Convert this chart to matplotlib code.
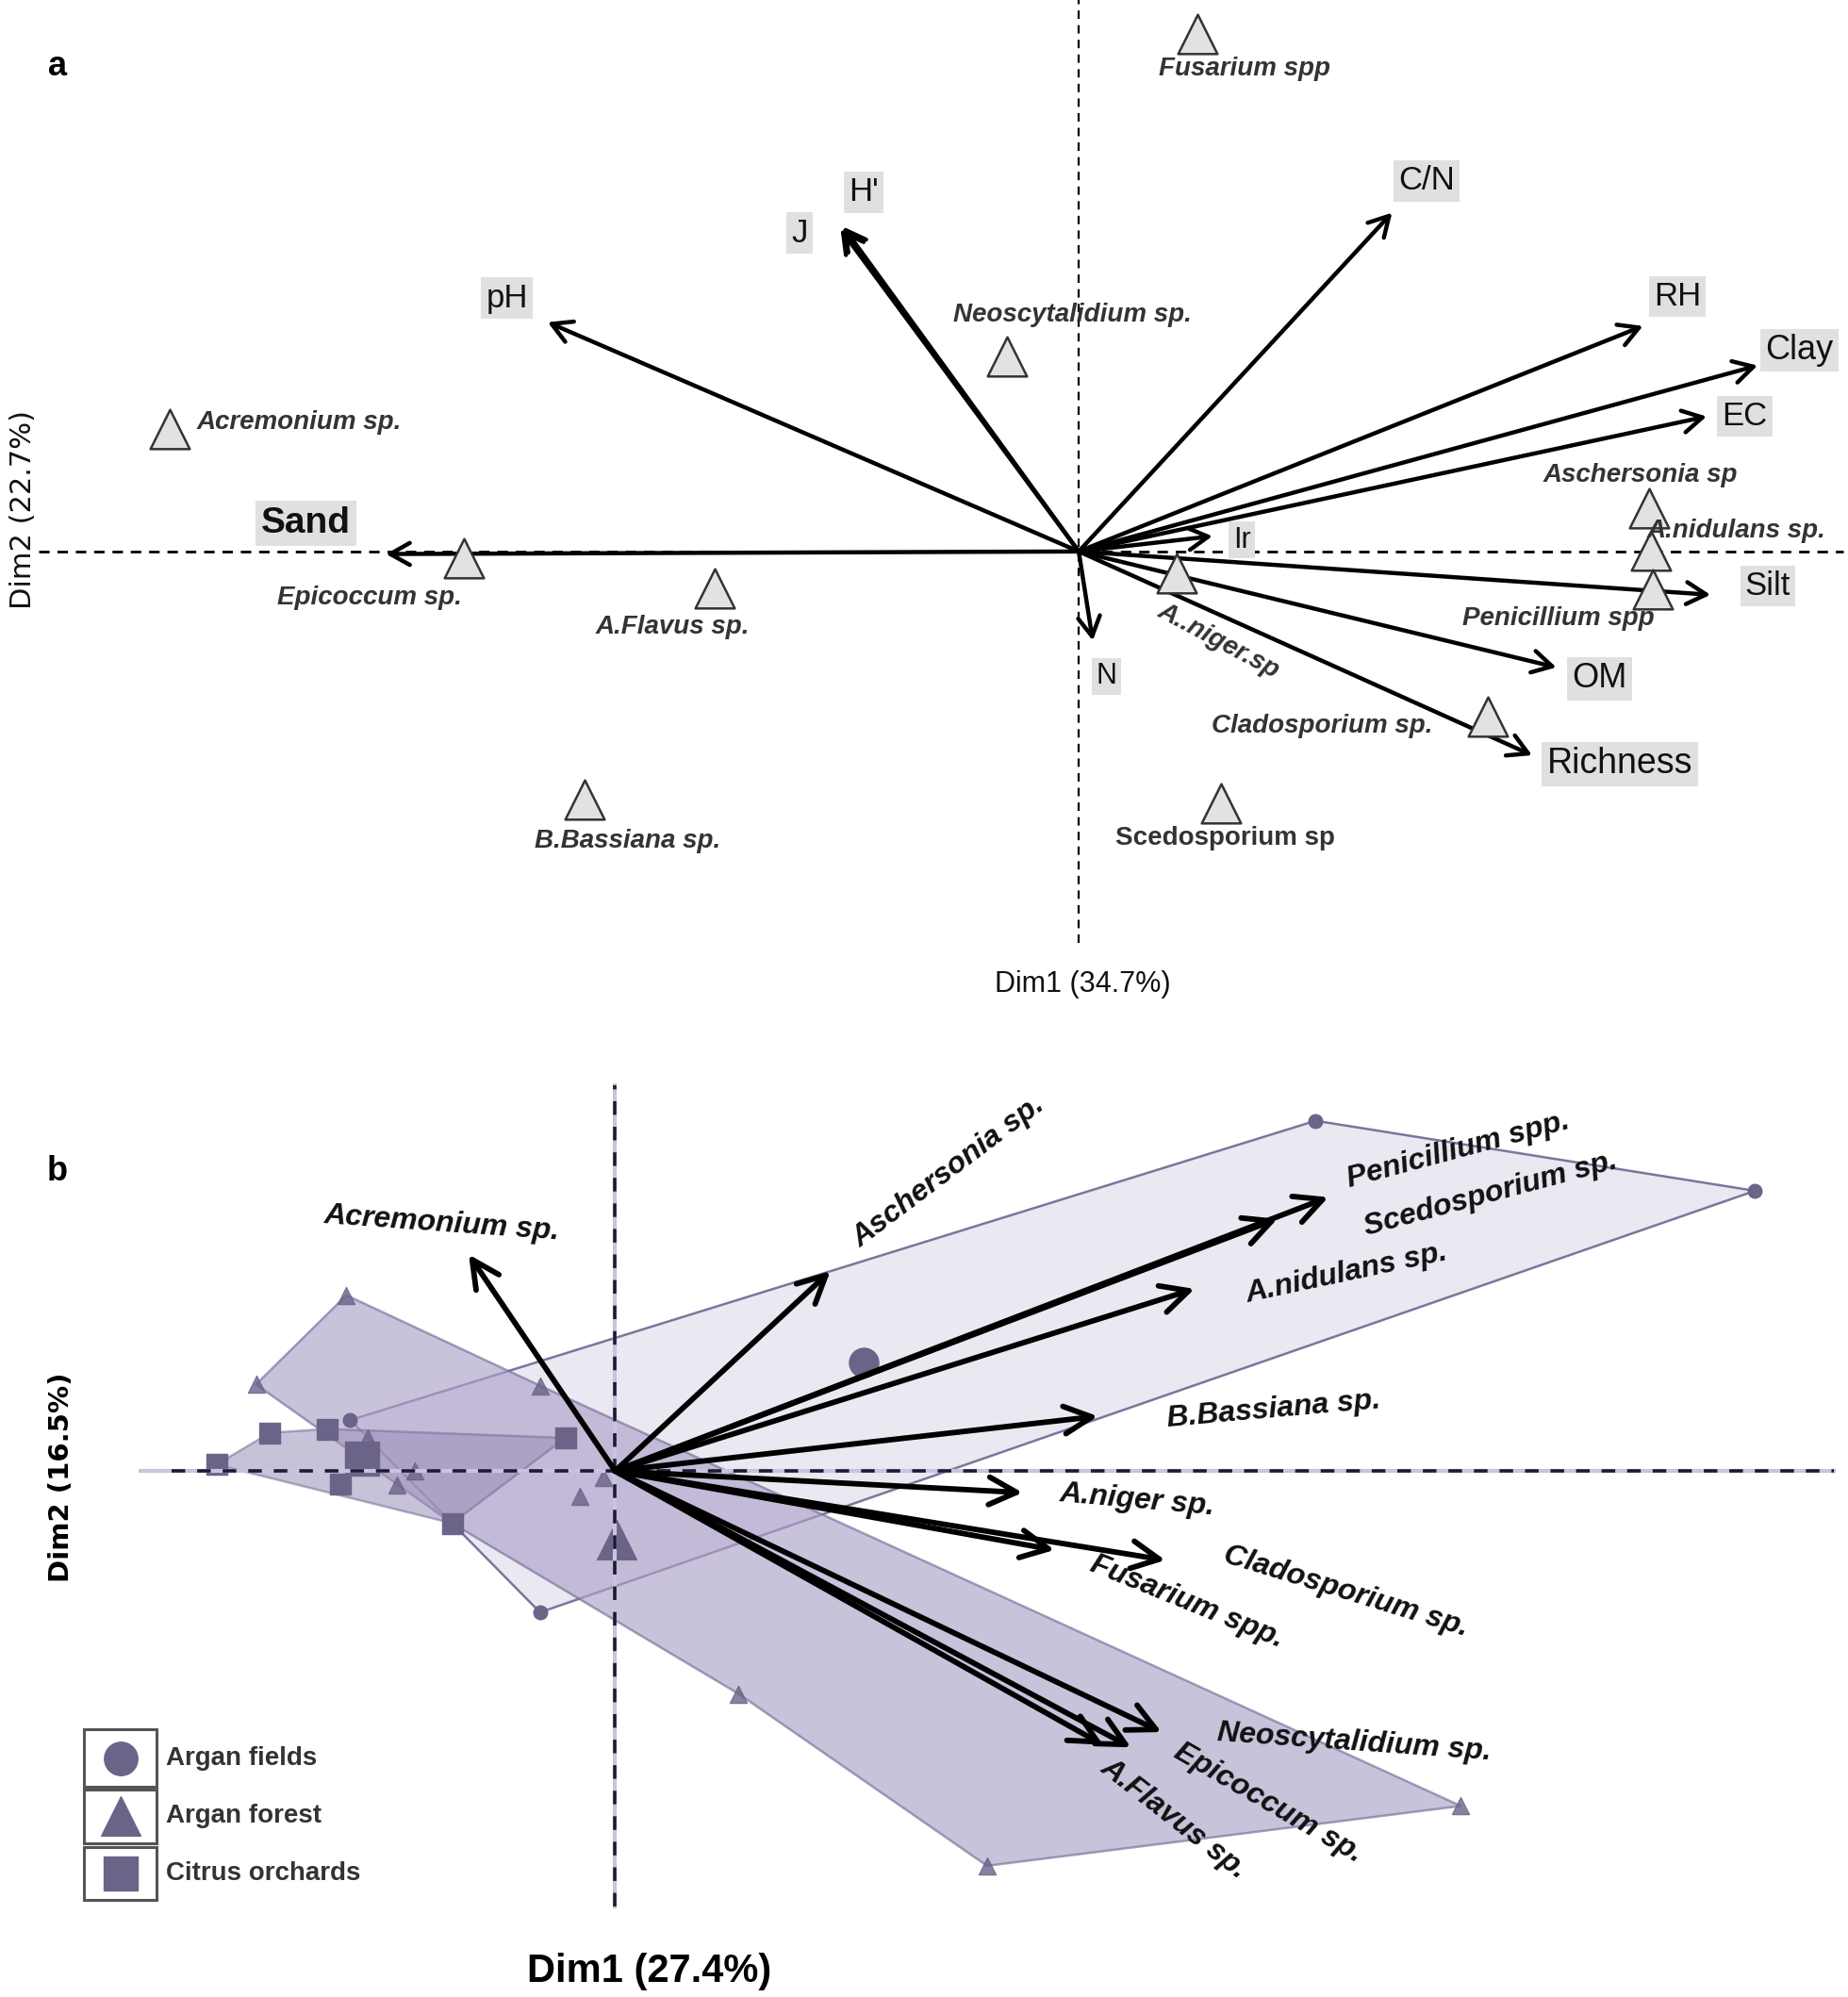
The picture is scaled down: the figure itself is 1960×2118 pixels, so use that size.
import matplotlib.pyplot as plt
from matplotlib.patches import Polygon, Rectangle

# ---------------- panel a : soil variables + fungal taxa ----------------
var_names = ['Sand', 'pH', 'J', "H'", 'C/N', 'RH', 'Clay', 'EC', 'Ir', 'Silt', 'OM', 'Richness', 'N']
var_x = [-5.44, -4.17, -1.87, -1.85, 2.46, 4.43, 5.33, 4.93, 1.05, 4.96, 3.75, 3.56, 0.11]
var_y = [-0.02, 1.80, 2.53, 2.55, 2.66, 1.77, 1.46, 1.06, 0.12, -0.34, -0.91, -1.60, -0.70]

taxa_a = ['Fusarium spp', 'Neoscytalidium sp.', 'Acremonium sp.', 'Epicoccum sp.', 'A.Flavus sp.',
          'A..niger.sp', 'Aschersonia sp', 'A.nidulans sp.', 'Penicillium spp', 'Cladosporium sp.',
          'B.Bassiana sp.', 'Scedosporium sp']
taxa_a_x = [0.93, -0.56, -7.14, -4.83, -2.86, 0.77, 4.48, 4.49, 4.51, 3.21, -3.88, 1.12]
taxa_a_y = [4.06, 1.53, 0.96, -0.05, -0.29, -0.17, 0.34, 0.01, -0.30, -1.30, -1.95, -1.98]

# ---------------- panel b : taxa vectors + site groups ----------------
taxa_b = ['Acremonium sp.', 'Aschersonia sp.', 'Penicillium spp.', 'Scedosporium sp.', 'A.nidulans sp.',
          'B.Bassiana sp.', 'A.niger sp.', 'Fusarium spp.', 'Cladosporium sp.', 'Neoscytalidium sp.',
          'Epicoccum sp.', 'A.Flavus sp.']
taxa_b_x = [-1.15, 1.69, 5.60, 5.20, 4.55, 3.79, 3.20, 3.45, 4.32, 4.29, 4.05, 3.83]
taxa_b_y = [1.70, 1.57, 2.15, 1.98, 1.43, 0.43, -0.17, -0.62, -0.70, -2.05, -2.17, -2.15]

fields_x = [5.50, 8.95, -0.59, -1.28, -2.08]
fields_y = [2.75, 2.20, -1.11, -0.41, 0.40]
fields_cx, fields_cy = 1.95, 0.85

forest_x = [-2.11, -2.82, -1.28, 0.97, 2.92, 6.64, -0.59]
forest_y = [1.38, 0.68, -0.41, -1.75, -3.10, -2.63, 0.67]
forest_in_x = [-1.57, -1.71, -1.94, -0.09, -0.28]
forest_in_y = [0.00, -0.11, 0.26, -0.05, -0.20]
forest_cx, forest_cy = 0.01, -0.54

citrus_x = [-3.13, -2.71, -2.26, -0.39, -1.28]
citrus_y = [0.05, 0.30, 0.33, 0.26, -0.41]
citrus_in_x = [-2.16]
citrus_in_y = [-0.10]
citrus_cx, citrus_cy = -1.99, 0.10

groups = ['Argan fields', 'Argan forest', 'Citrus orchards']

# ---------------- layout (label placement) ----------------
var_lab = [(-6.07, 0.22), (-4.49, 1.99), (-2.19, 2.50), (-1.69, 2.82), (2.73, 2.91), (4.70, 2.00),
           (5.66, 1.58), (5.23, 1.06), (1.28, 0.09), (5.41, -0.27), (4.09, -1.00), (4.25, -1.67),
           (0.22, -0.98)]
var_fs = [28, 25, 25, 25, 25, 25, 26, 25, 22, 25, 26, 27, 22]
taxa_a_lab = [(1.30, 3.79, 0), (-0.05, 1.86, 0), (-6.12, 1.01, 0), (-5.57, -0.36, 0), (-3.19, -0.59, 0),
              (1.10, -0.70, -28), (4.41, 0.60, 0), (5.16, 0.16, 0), (3.77, -0.53, 0), (1.91, -1.37, 0),
              (-3.54, -2.27, 0), (1.15, -2.25, 0)]
taxa_b_lab = [(-1.36, 1.94, -4), (2.62, 2.35, 37), (6.62, 2.52, 15), (6.87, 2.17, 15), (5.74, 1.55, 12),
              (5.17, 0.48, 5), (4.10, -0.23, -5), (4.49, -1.03, -22), (5.74, -0.95, -17),
              (5.80, -2.13, -4), (5.13, -2.61, -30), (4.39, -2.73, -38)]

FONT = ['Liberation Sans', 'DejaVu Sans']
plt.rcParams['font.family'] = FONT

fig = plt.figure(figsize=(19.6, 21.18), dpi=100)
ax_a = fig.add_axes([0, 1 - 800 / 1568, 1, 800 / 1568])
ax_b = fig.add_axes([0, 0, 1, 768 / 1568])
ax_a.set_xlim(-8.47, 6.04)
ax_a.set_ylim(-3.67, 4.33)
ax_b.set_xlim(-4.83, 9.68)
ax_b.set_ylim(-4.13, 3.55)
for ax in (ax_a, ax_b):
    ax.axis('off')

# ---- panel a ----
ax_a.plot([0, 0], [-3.07, 4.33], color='black', lw=1.6, ls=(0, (4, 3)), zorder=1)
ax_a.plot([-8.17, 6.0], [0, 0], color='black', lw=2.0, ls=(0, (4, 3)), zorder=1)

for name, x, y, (lx, ly), fs in zip(var_names, var_x, var_y, var_lab, var_fs):
    ax_a.annotate('', xy=(x, y), xytext=(0, 0),
                  arrowprops=dict(arrowstyle='->,head_length=0.5,head_width=0.28', lw=3.2,
                                  color='black', mutation_scale=30, shrinkA=0, shrinkB=0),
                  zorder=3)
    ax_a.text(lx, ly, name, fontsize=fs, fontweight='bold' if name == 'Sand' else 'normal',
              ha='center', va='center', color='#111111', zorder=4,
              bbox=dict(boxstyle='square,pad=0.15', fc='#e0e0e0', ec='none'))

ax_a.scatter(taxa_a_x, taxa_a_y, marker='^', s=900, facecolor='#e2e2e2',
             edgecolor='#333333', linewidth=1.8, zorder=5)
for name, (lx, ly, rot) in zip(taxa_a, taxa_a_lab):
    style = 'normal' if name == 'Scedosporium sp' else 'italic'
    ax_a.text(lx, ly, name, fontsize=20, fontweight='bold', style=style, color='#333333',
              ha='center', va='center', rotation=rot, rotation_mode='anchor', zorder=6)

ax_a.text(-8.29, 0.33, 'Dim2 (22.7%)', rotation=90, fontsize=22, ha='center', va='center',
          color='#111111', family=['DejaVu Sans'])
ax_a.text(0.03, -3.40, 'Dim1 (34.7%)', fontsize=22, ha='center', va='center', color='#111111')
ax_a.text(-8.02, 3.81, 'a', fontsize=26, fontweight='bold', ha='center', va='center')

# ---- panel b ----
edge = '#776e98'
mark = '#6b6388'
ax_b.add_patch(Polygon(list(zip(fields_x, fields_y)), closed=True, fc='#e9e7f1', ec=edge, lw=1.8,
                       alpha=0.95, zorder=1))
ax_b.add_patch(Polygon(list(zip(forest_x, forest_y)), closed=True, fc='#ada2c8', ec=edge, lw=1.8,
                       alpha=0.65, zorder=2))
ax_b.add_patch(Polygon(list(zip(citrus_x, citrus_y)), closed=True, fc='#9a90b8', ec=edge, lw=1.8,
                       alpha=0.55, zorder=3))

ax_b.scatter(fields_x, fields_y, marker='o', s=110, color=mark, zorder=4)
ax_b.scatter([fields_cx], [fields_cy], marker='o', s=500, color=mark, zorder=4)
ax_b.scatter(forest_x + forest_in_x, forest_y + forest_in_y, marker='^', s=170, color=mark,
             alpha=0.8, zorder=4)
ax_b.scatter([forest_cx], [forest_cy], marker='^', s=900, color=mark, zorder=4)
ax_b.scatter(citrus_x + citrus_in_x, citrus_y + citrus_in_y, marker='s', s=230, color=mark, zorder=4)
ax_b.scatter([citrus_cx], [citrus_cy], marker='s', s=650, color=mark, zorder=4)

ax_b.plot([0, 0], [-3.42, 3.03], color='#c9c3de', lw=3, zorder=5)
ax_b.plot([-3.73, 9.57], [0, 0], color='#c9c3de', lw=3, zorder=5)
ax_b.plot([0, 0], [-3.42, 3.03], color='#1c1a35', lw=2.6, ls=(0, (4, 3.5)), zorder=6)
ax_b.plot([-3.48, 9.57], [0, 0], color='#1c1a35', lw=2.6, ls=(0, (4, 3.5)), zorder=6)

for name, x, y, (lx, ly, rot) in zip(taxa_b, taxa_b_x, taxa_b_y, taxa_b_lab):
    ax_b.annotate('', xy=(x, y), xytext=(0, 0),
                  arrowprops=dict(arrowstyle='->,head_length=0.7,head_width=0.35', lw=4.2,
                                  color='black', mutation_scale=30, shrinkA=0, shrinkB=0),
                  zorder=7)
    ax_b.text(lx, ly, name, fontsize=23, fontweight='bold', style='italic', color='#111111',
              ha='center', va='center', rotation=rot, rotation_mode='anchor', zorder=8)

ax_b.text(-4.35, -0.05, 'Dim2 (16.5%)', rotation=90, fontsize=21, fontweight='bold',
          ha='center', va='center', family=['DejaVu Sans'])
ax_b.text(0.27, -3.93, 'Dim1 (27.4%)', fontsize=30, fontweight='bold', ha='center', va='center')
ax_b.text(-4.38, 2.35, 'b', fontsize=26, fontweight='bold', ha='center', va='center')

# legend: one framed box per group
box_y = [-2.48, -2.92, -3.37]
box_h = [0.45, 0.42, 0.42]
leg_markers = ['o', '^', 's']
leg_sizes = [650, 900, 650]
for name, by, bh, m, ms in zip(groups, box_y, box_h, leg_markers, leg_sizes):
    ax_b.add_patch(Rectangle((-4.17, by), 0.57, bh, fc='white', ec='#555555', lw=2.2, zorder=9))
    ax_b.scatter([-3.885], [by + bh / 2], marker=m, s=ms, color=mark, zorder=10)
    ax_b.text(-3.53, by + bh / 2, name, fontsize=20, fontweight='bold', color='#333333',
              ha='left', va='center', family=['Liberation Sans Narrow', 'Liberation Sans'], zorder=10)

fig.savefig('out.png', dpi=100)
